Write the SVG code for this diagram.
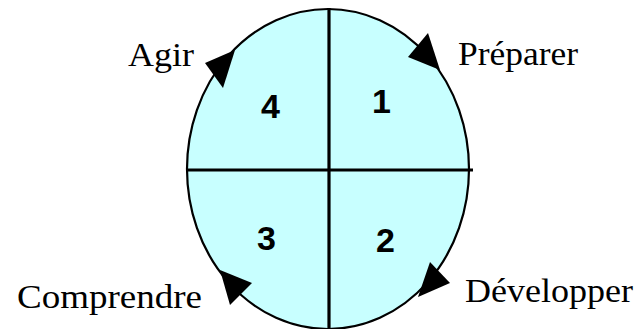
<svg xmlns="http://www.w3.org/2000/svg" width="638" height="329" viewBox="0 0 638 329">
<style>
.lbl{font-family:"Liberation Serif","Times New Roman",serif;font-size:33px;fill:#000}
.num{font-family:"Liberation Sans",Arial,sans-serif;font-size:34px;font-weight:bold;fill:#000}
.ax{stroke:#000;stroke-width:3.2}
.head{fill:#000}
</style>
<rect width="638" height="329" fill="#fff"/>
<g id="circle">
<ellipse cx="328" cy="169" rx="141" ry="160" fill="#c8ffff" stroke="#000" stroke-width="2.2"/>
</g>
<g id="connectors">
<line class="ax" x1="329" y1="8" x2="329" y2="329"/>
<line class="ax" x1="187" y1="170" x2="473" y2="170"/>
<polygon class="head" points="428,33 408,57 440,70"/>
<polygon class="head" points="430,262 450,283 418,297"/>
<polygon class="head" points="252,283 230,305 220,270"/>
<polygon class="head" points="205,63 223,88 235,50"/>
</g>
<g id="q1"><text class="num" x="372" y="113">1</text></g>
<g id="q2"><text class="num" x="376" y="252">2</text></g>
<g id="q3"><text class="num" x="257" y="250">3</text></g>
<g id="q4"><text class="num" x="261" y="118">4</text></g>
<g id="agir"><text class="lbl" x="128" y="66" textLength="66" lengthAdjust="spacingAndGlyphs">Agir</text></g>
<g id="preparer"><text class="lbl" x="458" y="65" textLength="120" lengthAdjust="spacingAndGlyphs">Préparer</text></g>
<g id="comprendre"><text class="lbl" x="17" y="308" textLength="185" lengthAdjust="spacingAndGlyphs">Comprendre</text></g>
<g id="developper"><text class="lbl" x="465" y="302" textLength="168" lengthAdjust="spacingAndGlyphs">Développer</text></g>
</svg>
